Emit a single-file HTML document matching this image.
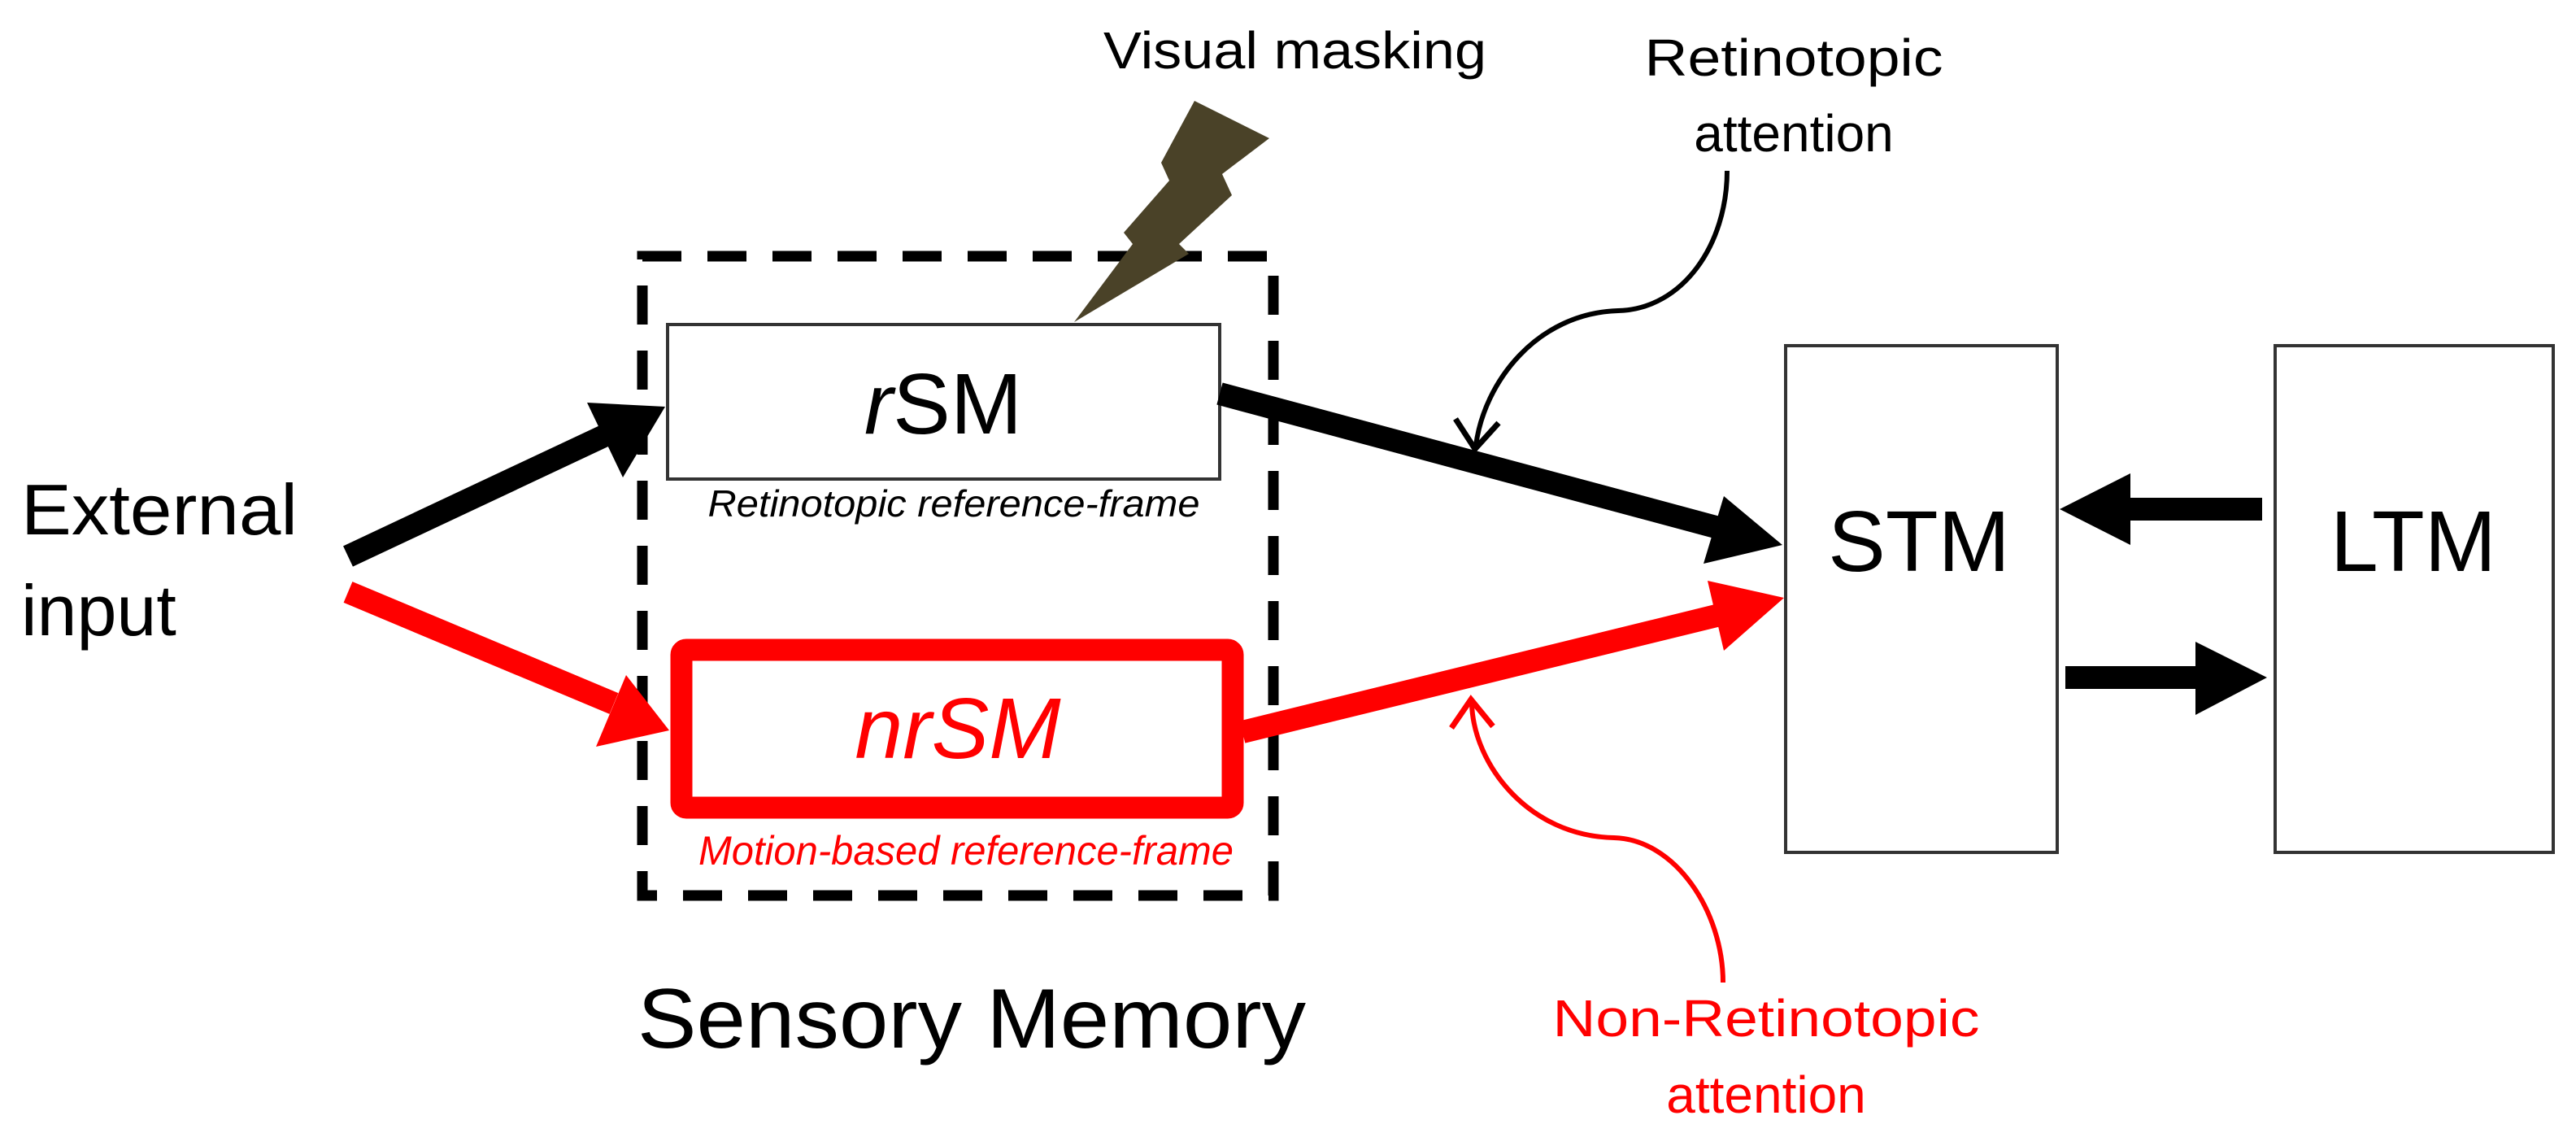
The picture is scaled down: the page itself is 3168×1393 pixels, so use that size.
<!DOCTYPE html>
<html><head><meta charset="utf-8"><style>
html,body{margin:0;padding:0;background:#fff;}
svg{display:block;}
text{font-family:"Liberation Sans",sans-serif;}
</style></head><body>
<svg width="3168" height="1393" viewBox="0 0 3168 1393" xmlns="http://www.w3.org/2000/svg">
<defs>
<marker id="ah" markerWidth="10" markerHeight="10" refX="5" refY="5" orient="auto" markerUnits="userSpaceOnUse"></marker>
</defs>
<!-- dashed sensory memory box -->
<rect x="790" y="315" width="776" height="786" fill="none" stroke="#000" stroke-width="13" stroke-dasharray="48,32"/>
<!-- lightning -->
<polygon points="1469,124 1561,170 1503,214 1515,240 1450,300 1462,312 1321,396 1393,300 1382,286 1438,222 1428,200" fill="#4a4228"/>
<text x="1357" y="84" font-size="64" textLength="471" lengthAdjust="spacingAndGlyphs">Visual masking</text>
<!-- rSM -->
<rect x="821" y="399" width="679" height="190" fill="#fff" stroke="#333" stroke-width="4"/>
<text x="1160" y="533" font-size="106" text-anchor="middle"><tspan font-style="italic">r</tspan>SM</text>
<text x="1173" y="635" font-size="46" font-style="italic" text-anchor="middle" textLength="605" lengthAdjust="spacingAndGlyphs">Retinotopic reference-frame</text>
<!-- nrSM -->
<rect x="838" y="799" width="678" height="194" fill="#fff" stroke="#f00" stroke-width="27" rx="6"/>
<text x="1178" y="932" font-size="106" font-style="italic" fill="#f00" text-anchor="middle">nrSM</text>
<text x="1188" y="1063" font-size="50" font-style="italic" fill="#f00" text-anchor="middle" textLength="658" lengthAdjust="spacingAndGlyphs">Motion-based reference-frame</text>
<text x="784" y="1288" font-size="104" textLength="822" lengthAdjust="spacingAndGlyphs">Sensory Memory</text>
<!-- external input -->
<text x="26" y="657" font-size="88" textLength="340" lengthAdjust="spacingAndGlyphs">External</text>
<text x="26" y="781" font-size="88">input</text>
<!-- black input arrow -->
<line x1="428" y1="684" x2="745" y2="535" stroke="#000" stroke-width="28"/>
<polygon points="818,500 722,495 766,587" fill="#000"/>
<!-- red input arrow -->
<line x1="428" y1="728" x2="755" y2="865" stroke="#f00" stroke-width="28"/>
<polygon points="823,898 733,918 770,830" fill="#f00"/>
<!-- black rSM->STM -->
<line x1="1500" y1="484" x2="2110" y2="648" stroke="#000" stroke-width="28"/>
<polygon points="2192,670 2095,693 2120,610" fill="#000"/>
<!-- red nrSM->STM -->
<line x1="1528" y1="900" x2="2115" y2="756" stroke="#f00" stroke-width="28"/>
<polygon points="2194,735 2120,800 2100,714" fill="#f00"/>
<!-- STM / LTM -->
<rect x="2196" y="425" width="334" height="623" fill="#fff" stroke="#333" stroke-width="4"/>
<rect x="2798" y="425" width="342" height="623" fill="#fff" stroke="#333" stroke-width="4"/>
<text x="2360" y="702" font-size="106" text-anchor="middle">STM</text>
<text x="2968" y="702" font-size="106" text-anchor="middle">LTM</text>
<!-- LTM -> STM -->
<rect x="2610" y="612" width="172" height="28" fill="#000"/>
<polygon points="2533,626 2620,582 2620,670" fill="#000"/>
<!-- STM -> LTM -->
<rect x="2540" y="819" width="170" height="28" fill="#000"/>
<polygon points="2788,833 2700,789 2700,879" fill="#000"/>
<!-- retinotopic attention -->
<text x="2206" y="93" font-size="64" text-anchor="middle" textLength="367" lengthAdjust="spacingAndGlyphs">Retinotopic</text>
<text x="2206" y="186" font-size="64" text-anchor="middle">attention</text>
<path d="M2124,210 C2124,300 2070,380 1990,382 C1890,385 1825,470 1815,548" fill="none" stroke="#000" stroke-width="6"/>
<path d="M1790,515 L1814,552 L1843,520" fill="none" stroke="#000" stroke-width="7"/>
<!-- non-retinotopic attention -->
<path d="M2119,1208 C2119,1120 2060,1032 1985,1030 C1880,1028 1812,940 1810,865" fill="none" stroke="#f00" stroke-width="6"/>
<path d="M1785,895 L1809,860 L1836,893" fill="none" stroke="#f00" stroke-width="7"/>
<text x="2172" y="1274" font-size="64" fill="#f00" text-anchor="middle" textLength="525" lengthAdjust="spacingAndGlyphs">Non-Retinotopic</text>
<text x="2172" y="1368" font-size="64" fill="#f00" text-anchor="middle">attention</text>
</svg>
</body></html>
